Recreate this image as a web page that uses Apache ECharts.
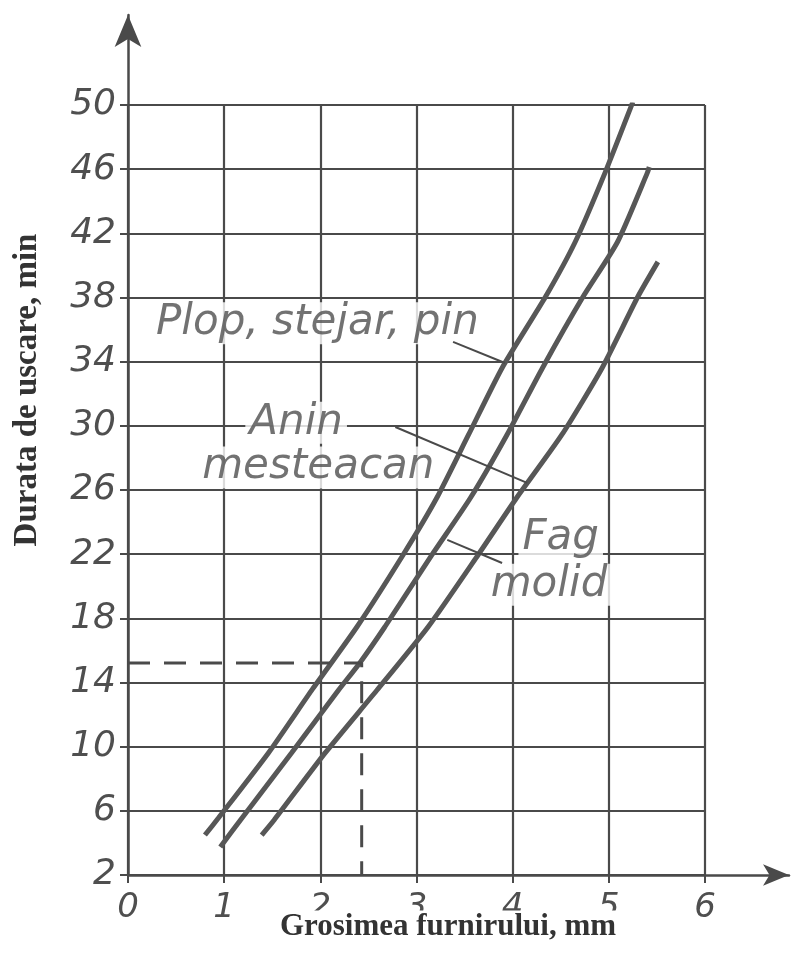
<!DOCTYPE html>
<html>
<head>
<meta charset="utf-8">
<title>Durata de uscare</title>
<script src="https://cdn.jsdelivr.net/npm/echarts@6/dist/echarts.min.js"></script>
<style>
  html, body { margin: 0; padding: 0; background: #fff; }
  #chart { width: 791px; height: 963px; }
</style>
</head>
<body>
<div id="chart"></div>
<script>
// axes
var xRange = [0, 6];
var yRange = [2, 50];
var xStep = 1;
var yStep = 4;

// curves: thickness (mm) -> drying time (min)
var plopX = [0.80, 0.94, 1.46, 1.92, 2.38, 2.86, 3.21, 3.54, 3.89, 4.34, 4.65, 4.96, 5.25];
var plopY = [4.49, 5.55, 9.61, 13.6, 17.46, 21.95, 25.5, 29.43, 33.61, 38.03, 41.46, 45.77, 50.19];

var aninX = [0.96, 1.17, 1.70, 2.19, 2.41, 2.67, 3.16, 3.56, 3.94, 4.31, 4.73, 5.09, 5.40, 5.42];
var aninY = [3.75, 5.43, 9.61, 13.53, 15.22, 17.46, 21.95, 25.5, 29.43, 33.61, 38.03, 41.46, 45.77, 46.14];

var fagX = [1.39, 1.52, 2.05, 2.59, 3.12, 3.64, 4.04, 4.51, 4.93, 5.30, 5.51];
var fagY = [4.49, 5.43, 9.61, 13.53, 17.46, 21.95, 25.5, 29.43, 33.61, 38.03, 40.22];

// worked example (dashed)
var exampleX = [0, 2.43, 2.43];
var exampleY = [15.22, 15.22, 2];

// curve labels and their leader lines
var labelText = ['Plop, stejar, pin', 'Anin', 'mesteacan', 'Fag', 'molid'];
var labelX = [0.25, 1.22, 0.73, 4.06, 3.73];
var labelY = [36.4, 30.2, 27.4, 23.0, 20.1];

var leaderPlop = [[3.38, 35.23], [3.92, 33.92]];
var leaderAnin = [[2.78, 29.93], [4.15, 26.44]];
var leaderFag = [[3.32, 22.89], [3.89, 21.45]];

function pairs(xs, ys) {
  var out = [];
  for (var i = 0; i < xs.length; i++) out.push([xs[i], ys[i]]);
  return out;
}

var handFont = 'DejaVu Sans';
var ink = '#4a4a4a';

var myChart = echarts.init(document.getElementById('chart'));

var curveStyle = { color: '#575757', width: 5 };
var thin = { color: ink, width: 2 };

var labelData = [];
for (var i = 0; i < labelText.length; i++) {
  labelData.push([labelX[i], labelY[i], labelText[i]]);
}

var option = {
  backgroundColor: '#fff',
  animation: false,
  grid: [
    // plotting area
    { left: 128, right: 86, top: 105, bottom: 88 },
    // same origin, longer axes with arrows
    { left: 128, right: 2, top: 15, bottom: 88 }
  ],
  xAxis: [{
    gridIndex: 0,
    type: 'value',
    min: xRange[0],
    max: xRange[1],
    interval: xStep,
    axisLine: { show: false },
    axisTick: { show: true, length: 8, lineStyle: { color: ink, width: 2 } },
    axisLabel: {
      margin: 16,
      fontFamily: handFont,
      fontStyle: 'italic',
      fontSize: 34,
      color: '#4f4f4f'
    },
    splitLine: { show: true, lineStyle: { color: ink, width: 2.2 } }
  }, {
    gridIndex: 1,
    type: 'value',
    min: 0,
    max: 1,
    axisLine: {
      show: true,
      symbol: ['none', 'arrow'],
      symbolSize: [16, 26],
      lineStyle: { color: ink, width: 2.5 }
    },
    axisTick: { show: false },
    axisLabel: { show: false },
    splitLine: { show: false }
  }],
  yAxis: [{
    gridIndex: 0,
    type: 'value',
    min: yRange[0],
    max: yRange[1],
    interval: yStep,
    axisLine: { show: false },
    axisTick: { show: true, length: 8, lineStyle: { color: ink, width: 2 } },
    axisLabel: {
      margin: 12,
      fontFamily: handFont,
      fontStyle: 'italic',
      fontSize: 36,
      color: '#4f4f4f'
    },
    splitLine: { show: true, lineStyle: { color: ink, width: 2.2 } }
  }, {
    gridIndex: 1,
    type: 'value',
    min: 0,
    max: 1,
    axisLine: {
      show: true,
      symbol: ['none', 'arrow'],
      symbolSize: [20, 32],
      lineStyle: { color: ink, width: 2.5 }
    },
    axisTick: { show: false },
    axisLabel: { show: false },
    splitLine: { show: false }
  }],
  graphic: [{
    type: 'text',
    x: 27,
    y: 390,
    rotation: Math.PI / 2,
    style: {
      text: 'Durata de uscare, min',
      font: 'bold 33px "Liberation Serif", "Times New Roman", serif',
      fill: '#333',
      textAlign: 'center',
      textVerticalAlign: 'middle'
    }
  }, {
    // the name sits over the lower half of the tick labels 2..5, as in the scan
    type: 'text',
    z: 100,
    x: 448,
    y: 927,
    style: {
      text: 'Grosimea furnirului, mm',
      font: 'bold 31px "Liberation Serif", "Times New Roman", serif',
      fill: '#333',
      backgroundColor: '#fff',
      padding: [1, 4],
      textAlign: 'center',
      textVerticalAlign: 'middle'
    }
  }],
  series: [{
    name: 'etichete',
    type: 'scatter',
    z: 1,
    symbolSize: 0,
    data: labelData,
    label: {
      show: true,
      position: 'right',
      distance: 0,
      formatter: function (p) { return p.value[2]; },
      fontFamily: handFont,
      fontStyle: 'italic',
      fontSize: 42,
      color: '#4f4f4f',
      backgroundColor: '#fff',
      padding: [0, 4]
    }
  }, {
    name: 'Plop, stejar, pin',
    type: 'line',
    z: 3,
    smooth: 0.2,
    showSymbol: false,
    lineStyle: curveStyle,
    data: pairs(plopX, plopY)
  }, {
    name: 'Anin, mesteacan',
    type: 'line',
    z: 3,
    smooth: 0.2,
    showSymbol: false,
    lineStyle: curveStyle,
    data: pairs(aninX, aninY)
  }, {
    name: 'Fag, molid',
    type: 'line',
    z: 3,
    smooth: 0.2,
    showSymbol: false,
    lineStyle: curveStyle,
    data: pairs(fagX, fagY)
  }, {
    name: 'exemplu',
    type: 'line',
    z: 3,
    showSymbol: false,
    lineStyle: { color: ink, width: 3, type: [22, 14] },
    data: pairs(exampleX, exampleY)
  }, {
    type: 'line', z: 3, showSymbol: false, lineStyle: thin, data: leaderPlop
  }, {
    type: 'line', z: 3, showSymbol: false, lineStyle: thin, data: leaderAnin
  }, {
    type: 'line', z: 3, showSymbol: false, lineStyle: thin, data: leaderFag
  }]
};

myChart.setOption(option);
</script>
</body>
</html>
